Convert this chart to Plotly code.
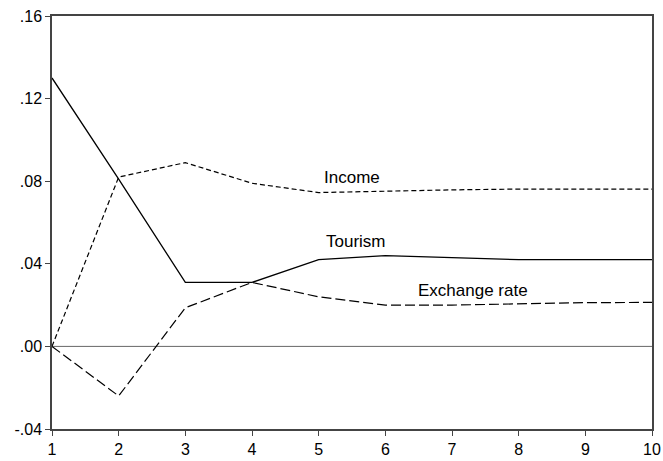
import plotly.graph_objects as go

periods = [1, 2, 3, 4, 5, 6, 7, 8, 9, 10]
tourism = [0.130, 0.081, 0.031, 0.031, 0.042, 0.044, 0.043, 0.042, 0.042, 0.042]
income = [0.000, 0.082, 0.089, 0.079, 0.0745, 0.0753, 0.0758, 0.0762, 0.0762, 0.0762]
exchange_rate = [0.000, -0.024, 0.0187, 0.031, 0.024, 0.020, 0.020, 0.0207, 0.0212, 0.0213]

y_ticks = [-0.04, 0.00, 0.04, 0.08, 0.12, 0.16]
y_tick_text = ["-.04", ".00", ".04", ".08", ".12", ".16"]

series_labels = [
    ("Income", 5.5, 0.082),
    ("Tourism", 5.56, 0.051),
    ("Exchange rate", 7.32, 0.027),
]

FONT = "Liberation Sans, Arial, sans-serif"

fig = go.Figure()

# zero reference line
fig.add_trace(go.Scatter(x=[1, 10], y=[0, 0], mode="lines",
                         line=dict(color="#666666", width=1), hoverinfo="skip"))

fig.add_trace(go.Scatter(x=periods, y=income, mode="lines", name="Income",
                         line=dict(color="black", width=1.2, dash="5px,3px")))
fig.add_trace(go.Scatter(x=periods, y=exchange_rate, mode="lines", name="Exchange rate",
                         line=dict(color="black", width=1.2, dash="10px,4px")))
fig.add_trace(go.Scatter(x=periods, y=tourism, mode="lines", name="Tourism",
                         line=dict(color="black", width=1.3)))

for text, xv, yv in series_labels:
    fig.add_annotation(x=xv, y=yv, text=text, showarrow=False,
                       font=dict(family=FONT, size=17, color="black"))

axis_font = dict(family=FONT, size=16, color="black")

fig.update_layout(
    width=663, height=461,
    margin=dict(l=52, r=11, t=16, b=32),
    paper_bgcolor="white", plot_bgcolor="white",
    showlegend=False,
    xaxis=dict(range=[1, 10], tickvals=periods, ticks="outside", ticklen=5,
               tickcolor="#444444", showline=True, linecolor="#444444", linewidth=1.5,
               mirror=True, showgrid=False, zeroline=False, tickfont=axis_font,
               automargin=False),
    yaxis=dict(range=[-0.04, 0.16], tickvals=y_ticks, ticktext=y_tick_text,
               ticks="outside", ticklen=5, tickcolor="#444444", showline=True,
               linecolor="#444444", linewidth=1.5, mirror=True, showgrid=False,
               zeroline=False, tickfont=axis_font, automargin=False),
)

fig.write_html("out.html")
